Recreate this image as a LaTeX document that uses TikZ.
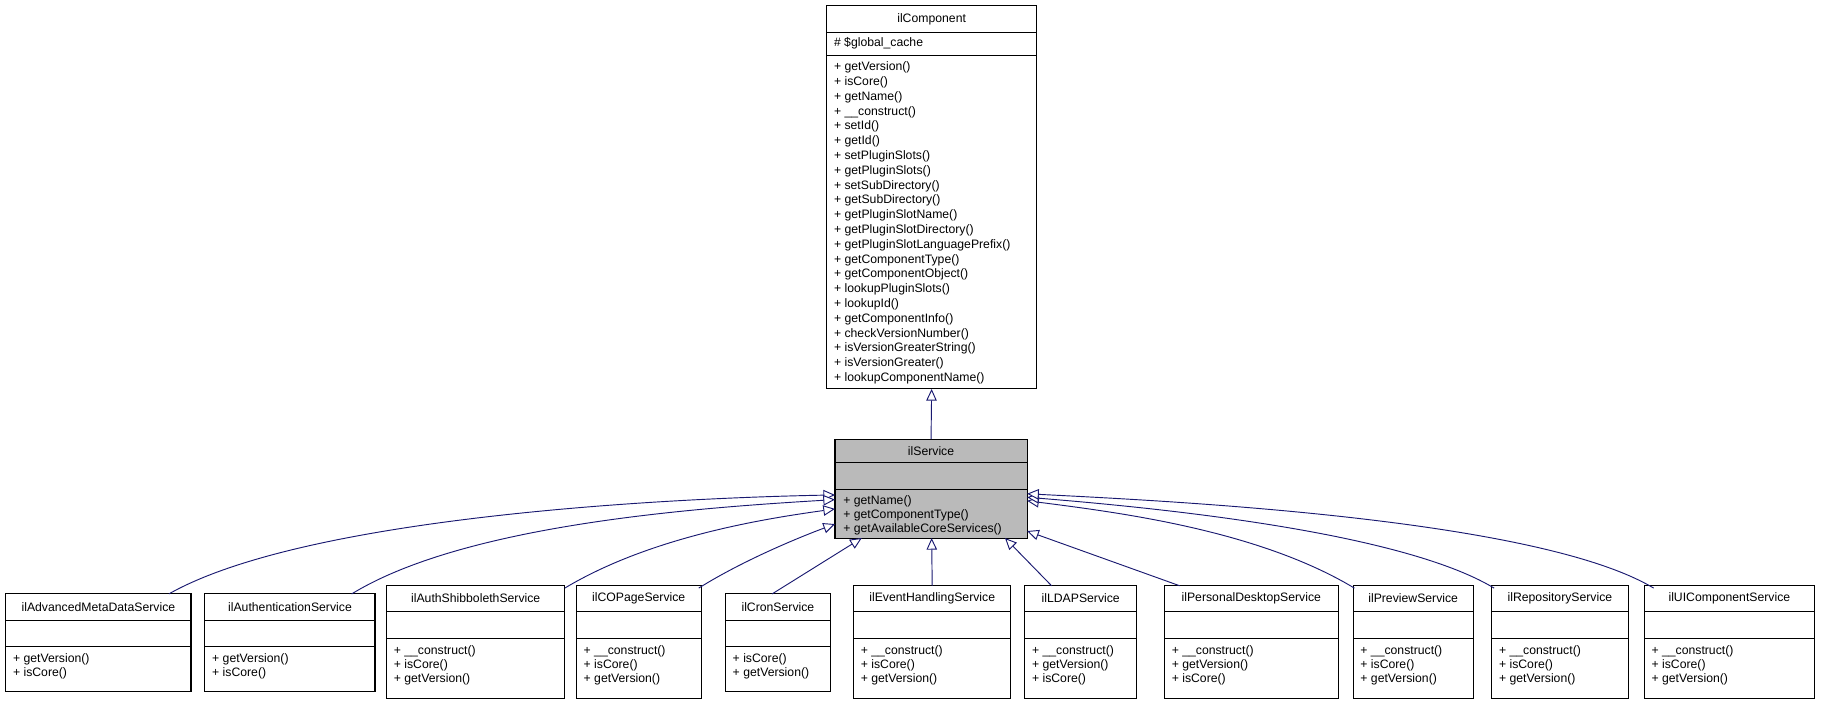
\documentclass[tikz,border=0pt]{standalone}
\usepackage{fontspec}
\setmainfont{Liberation Sans}
\usetikzlibrary{arrows.meta}
\definecolor{edge}{HTML}{191970}
\newcommand{\umlbox}[9]{% name x1 x2 ytop ysep1 ysep2 ybot title fill
  \draw[fill=#9,line width=0.9pt] (#2,#4) rectangle (#3,#7);
  \draw[line width=0.9pt] (#2,#5) -- (#3,#5) (#2,#6) -- (#3,#6);
  \node[lbl] (#1) at ({(#2+#3)/2},{(#4+#5)/2}) {#8};
  \coordinate (#1-n) at ({(#2+#3)/2},#4);
}
\tikzset{lbl/.style={font=\fontsize{10.5}{12}\selectfont,inner sep=0pt},
 meth/.style={font=\fontsize{10.5}{12.3}\selectfont,inner sep=0pt,anchor=north west,align=left},
 inh/.style={draw=edge,line width=0.8pt,-{Triangle[open,length=10pt,width=9pt,fill=white]}}}
\begin{document}
\begin{tikzpicture}[x=1pt,y=-1pt]
\useasboundingbox (0,0) rectangle (1568,605);
% ilComponent
\umlbox{comp}{710}{890}{5}{28}{48}{334}{ilComponent}{white}
\node[meth] (compa) at (716,32) {\# \$global\_cache};
\node[meth,font=\fontsize{10.5}{12.7}\selectfont] (compm) at (716,53) {+ getVersion()\\+ isCore()\\+ getName()\\+ \_\_construct()\\+ setId()\\+ getId()\\+ setPluginSlots()\\+ getPluginSlots()\\+ setSubDirectory()\\+ getSubDirectory()\\+ getPluginSlotName()\\+ getPluginSlotDirectory()\\+ getPluginSlotLanguagePrefix()\\+ getComponentType()\\+ getComponentObject()\\+ lookupPluginSlots()\\+ lookupId()\\+ getComponentInfo()\\+ checkVersionNumber()\\+ isVersionGreaterString()\\+ isVersionGreater()\\+ lookupComponentName()};
% ilService
\umlbox{svc}{717}{882}{377}{397}{420}{462}{ilService}{black!27}
\node[meth] (svcm) at (724,425) {+ getName()\\+ getComponentType()\\+ getAvailableCoreServices()};
\draw[inh] (svc-n) -- (800,334);
% children
\umlbox{c1}{5}{164}{510}{533}{555}{594}{ilAdvancedMetaDataService}{white}
\node[meth] at (11,561) {+ getVersion()\\+ isCore()};
\umlbox{c2}{176}{322}{510}{533}{555}{594}{ilAuthenticationService}{white}
\node[meth] at (182,561) {+ getVersion()\\+ isCore()};
\umlbox{c3}{332}{485}{503}{525}{548}{600}{ilAuthShibbolethService}{white}
\node[meth] at (338,554) {+ \_\_construct()\\+ isCore()\\+ getVersion()};
\umlbox{c4}{495}{602}{503}{525}{548}{600}{ilCOPageService}{white}
\node[meth] at (501,554) {+ \_\_construct()\\+ isCore()\\+ getVersion()};
\umlbox{c5}{623}{713}{510}{533}{555}{594}{ilCronService}{white}
\node[meth] at (629,561) {+ isCore()\\+ getVersion()};
\umlbox{c6}{733}{868}{503}{525}{548}{600}{ilEventHandlingService}{white}
\node[meth] at (739,554) {+ \_\_construct()\\+ isCore()\\+ getVersion()};
\umlbox{c7}{880}{976}{503}{525}{548}{600}{ilLDAPService}{white}
\node[meth] at (886,554) {+ \_\_construct()\\+ getVersion()\\+ isCore()};
\umlbox{c8}{1000}{1149}{503}{525}{548}{600}{ilPersonalDesktopService}{white}
\node[meth] at (1006,554) {+ \_\_construct()\\+ getVersion()\\+ isCore()};
\umlbox{c9}{1162}{1265}{503}{525}{548}{600}{ilPreviewService}{white}
\node[meth] at (1168,554) {+ \_\_construct()\\+ isCore()\\+ getVersion()};
\umlbox{c10}{1281}{1398}{503}{525}{548}{600}{ilRepositoryService}{white}
\node[meth] at (1287,554) {+ \_\_construct()\\+ isCore()\\+ getVersion()};
\umlbox{c11}{1412}{1558}{503}{525}{548}{600}{ilUIComponentService}{white}
\node[meth] at (1418,554) {+ \_\_construct()\\+ isCore()\\+ getVersion()};
% edges
\draw[inh] (145,510) .. controls (260,445) and (560,428) .. (717,425);
\draw[inh] (302,510) .. controls (400,450) and (600,436) .. (717,429);
\draw[inh] (485,505) .. controls (560,460) and (660,445) .. (717,437);
\draw[inh] (600,505) .. controls (640,480) and (690,460) .. (717,450);
\draw[inh] (c5-n) ++(-5,0) -- (740,462);
\draw[inh] (c6-n) -- (800,462);
\draw[inh] (903,503) -- (863,462);
\draw[inh] (1013,503) -- (882,456);
\draw[inh] (1163,505) .. controls (1080,455) and (960,440) .. (882,430);
\draw[inh] (1283,505) .. controls (1200,455) and (980,435) .. (882,427);
\draw[inh] (1420,505) .. controls (1320,445) and (1000,430) .. (882,424);
\end{tikzpicture}
\end{document}
